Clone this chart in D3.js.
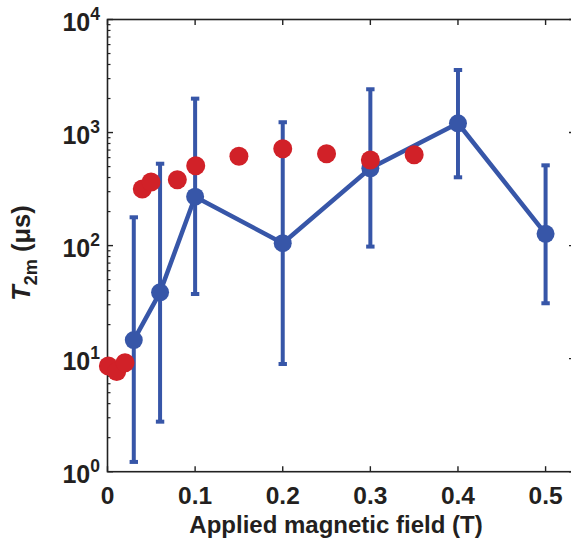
<!DOCTYPE html>
<html>
<head>
<meta charset="utf-8">
<script src="https://cdn.jsdelivr.net/npm/d3@7/dist/d3.min.js"></script>
<style>
  html, body { margin: 0; padding: 0; background: #fff; }
  svg { display: block; font-family: "Liberation Sans", Arial, Helvetica, sans-serif; }
</style>
</head>
<body>
<svg id="chart" width="571" height="546"></svg>
<script>
// Field-dependent coherence time T2m (blue: with error bars, red: second data set)
const blueField = [0.03, 0.06, 0.1, 0.2, 0.3, 0.4, 0.5];
const blueT2m   = [14.6, 38.6, 271, 105, 483, 1208, 127];
const blueUpper = [178, 530, 1995, 1234, 2415, 3575, 513];
const blueLower = [1.22, 2.77, 37.3, 8.97, 98, 402, 30.9];

const redField = [0.001, 0.0105, 0.02, 0.0397, 0.0497, 0.0797, 0.1007, 0.15, 0.2, 0.25, 0.3, 0.35];
const redT2m   = [8.6, 7.7, 9.2, 317, 365, 383, 509, 617, 720, 650, 572, 637];

const xTicks = [0, 0.1, 0.2, 0.3, 0.4, 0.5];
const xTickLabels = ["0", "0.1", "0.2", "0.3", "0.4", "0.5"];
const yExponents = [0, 1, 2, 3, 4];

const blue = "#3756a8";
const red = "#d12128";

const svg = d3.select("#chart");
const plotLeft = 107.5, plotRight = 574.5, plotTop = 19.5, plotBottom = 471.7;

const x = d3.scaleLinear().domain([0, 0.533]).range([plotLeft, plotRight]);
const y = d3.scaleLog().domain([1, 10000]).range([plotBottom, plotTop]);

// Frame
const axisG = svg.append("g");
axisG.append("rect")
  .attr("x", plotLeft).attr("y", plotTop)
  .attr("width", plotRight - plotLeft).attr("height", plotBottom - plotTop)
  .attr("fill", "none").attr("stroke", "#222").attr("stroke-width", 1.6);

// Minor + major ticks on left and right edges (pointing inward)
const minor = [];
for (let e = 0; e < 4; e++) for (let m = 2; m <= 9; m++) minor.push(m * Math.pow(10, e));
const major = yExponents.map(e => Math.pow(10, e));

[[plotLeft, 1], [plotRight, -1]].forEach(([x0, dir]) => {
  axisG.selectAll(null).data(minor).enter().append("line")
    .attr("x1", x0).attr("x2", x0 + dir * 3)
    .attr("y1", d => y(d)).attr("y2", d => y(d))
    .attr("stroke", "#222").attr("stroke-width", 1.2);
  axisG.selectAll(null).data(major).enter().append("line")
    .attr("x1", x0).attr("x2", x0 + dir * 5.5)
    .attr("y1", d => y(d)).attr("y2", d => y(d))
    .attr("stroke", "#222").attr("stroke-width", 1.4);
});

// X ticks on top and bottom edges (pointing inward)
[[plotBottom, -1], [plotTop, 1]].forEach(([y0, dir]) => {
  axisG.selectAll(null).data(xTicks).enter().append("line")
    .attr("x1", d => x(d)).attr("x2", d => x(d))
    .attr("y1", y0).attr("y2", y0 + dir * 5.5)
    .attr("stroke", "#222").attr("stroke-width", 1.4);
});

// Y tick labels as powers of ten
const yl = svg.append("g").selectAll("text").data(yExponents).enter().append("text")
  .attr("x", 100)
  .attr("y", d => y(Math.pow(10, d)) + 11)
  .attr("text-anchor", "end")
  .attr("font-weight", "bold")
  .attr("font-size", 25)
  .attr("fill", "#231f20");
yl.append("tspan").text("10");
yl.append("tspan").attr("dy", -11).attr("font-size", 17.5).text(d => d);

// X tick labels
svg.append("g").selectAll("text").data(xTicks).enter().append("text")
  .attr("x", d => x(d))
  .attr("y", 504)
  .attr("text-anchor", "middle")
  .attr("font-weight", "bold")
  .attr("font-size", 24.5)
  .attr("fill", "#231f20")
  .text((d, i) => xTickLabels[i]);

// Axis titles
svg.append("text")
  .attr("x", 336).attr("y", 533)
  .attr("text-anchor", "middle")
  .attr("font-weight", "bold")
  .attr("font-size", 24)
  .attr("fill", "#231f20")
  .text("Applied magnetic field (T)");

const yt = svg.append("text")
  .attr("transform", "translate(30,253) rotate(-90)")
  .attr("text-anchor", "middle")
  .attr("font-weight", "bold")
  .attr("font-size", 25.5)
  .attr("fill", "#231f20");
yt.append("tspan").attr("font-style", "italic").text("T");
yt.append("tspan").attr("font-size", 18).attr("dy", 7).text("2m");
yt.append("tspan").attr("dy", -7).text(" (μs)");

// Blue error bars
const eb = svg.append("g").attr("stroke", blue);
blueField.forEach((f, i) => {
  const cx = x(f);
  eb.append("line")
    .attr("x1", cx).attr("x2", cx)
    .attr("y1", y(blueUpper[i])).attr("y2", y(blueLower[i]))
    .attr("stroke-width", 4);
  [blueUpper[i], blueLower[i]].forEach(v => {
    eb.append("line")
      .attr("x1", cx - 4.2).attr("x2", cx + 4.2)
      .attr("y1", y(v)).attr("y2", y(v))
      .attr("stroke-width", 4);
  });
});

// Blue connecting line
const line = d3.line().x(d => x(d[0])).y(d => y(d[1]));
svg.append("path")
  .datum(blueField.map((f, i) => [f, blueT2m[i]]))
  .attr("d", line)
  .attr("fill", "none")
  .attr("stroke", blue)
  .attr("stroke-width", 4.5)
  .attr("stroke-linejoin", "round");

// Blue markers
svg.append("g").selectAll("circle").data(blueField).enter().append("circle")
  .attr("cx", d => x(d))
  .attr("cy", (d, i) => y(blueT2m[i]))
  .attr("r", 9)
  .attr("fill", blue);

// Red markers
svg.append("g").selectAll("circle").data(redField).enter().append("circle")
  .attr("cx", d => x(d))
  .attr("cy", (d, i) => y(redT2m[i]))
  .attr("r", 9.5)
  .attr("fill", red);
</script>
</body>
</html>
